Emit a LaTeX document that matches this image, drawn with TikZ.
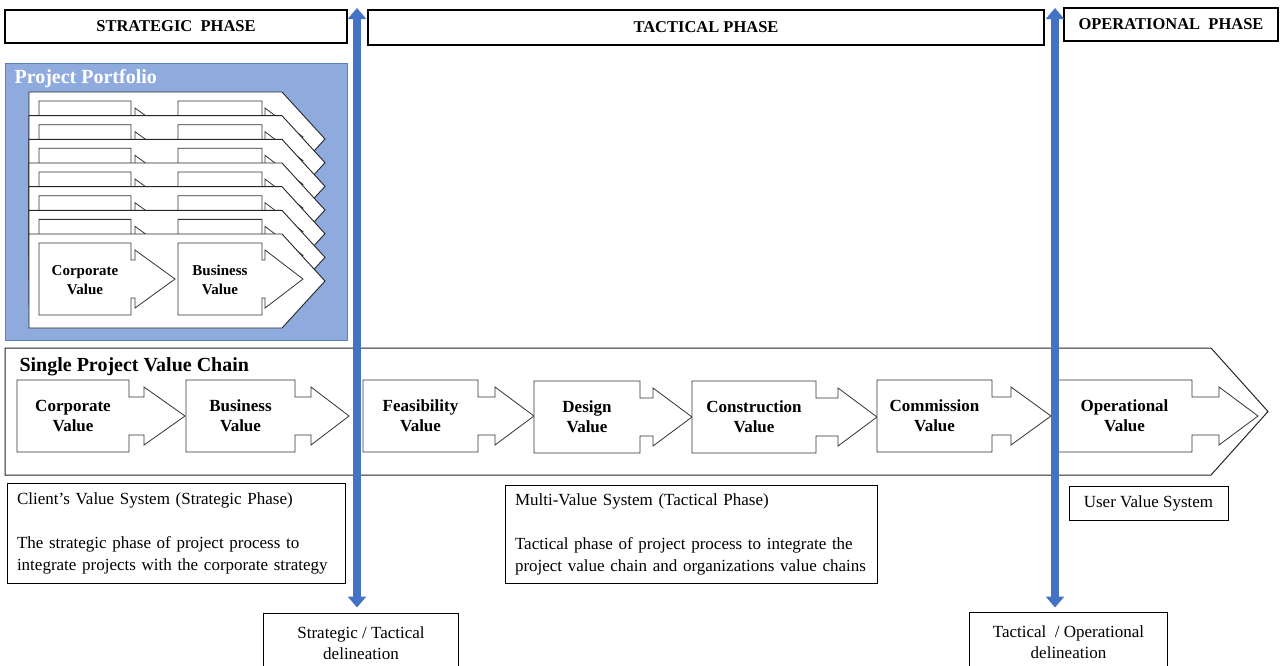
\documentclass[tikz,border=0pt]{standalone}
\usepackage{fontspec}
\setmainfont{Liberation Serif}
\usepackage{tikz}
\usetikzlibrary{arrows.meta}

\definecolor{arrowblue}{RGB}{68,114,196}
\definecolor{portfoliofill}{RGB}{143,170,220}
\definecolor{portfolioline}{RGB}{90,125,190}

% value arrow: left, right, notch, tip, centre y
\newcommand{\valueshape}[5]{%
  \draw[chevron] (#1,#5-36) -- (#2,#5-36) -- (#2,#5-19) -- (#3,#5-19)
    -- (#3,#5-29) -- (#4,#5) -- (#3,#5+29) -- (#3,#5+19) -- (#2,#5+19)
    -- (#2,#5+36) -- (#1,#5+36) -- cycle;}

\begin{document}
\begin{tikzpicture}[x=1pt,y=-1pt,
  phase box/.style={draw,line width=1.1pt,inner sep=0pt,font=\fontsize{16.5}{20}\selectfont\bfseries},
  info box/.style={draw,line width=1pt,inner xsep=10pt,inner ysep=0pt,align=left,font=\fontsize{17}{22}\selectfont},
  delin box/.style={draw,line width=1pt,inner sep=0pt,align=center,font=\fontsize{17}{21}\selectfont},
  chevron/.style={draw=black!80,fill=white,line width=0.8pt},
  strip/.style={draw=black!85,fill=white,line width=0.9pt},
  value label/.style={align=center,font=\fontsize{17}{20}\selectfont\bfseries},
  small label/.style={align=center,font=\fontsize{15}{19}\selectfont\bfseries},
  phase arrow/.style={draw=arrowblue,line width=7.5pt,
    {Triangle[width=18pt,length=11pt]}-{Triangle[width=18pt,length=11pt]}}]

  \useasboundingbox (0,0) rectangle (1280,665);
  \clip (0,0) rectangle (1280,665);

  % phase headers
  \node[phase box,minimum width=342,minimum height=33] (strat) at (176,26.5) {STRATEGIC\ \ PHASE};
  \node[phase box,minimum width=676,minimum height=35] (tact) at (706,27.5) {TACTICAL PHASE};
  \node[phase box,minimum width=214,minimum height=33] (oper) at (1171,24.5) {OPERATIONAL\ \ PHASE};

  % project portfolio
  \draw[fill=portfoliofill,draw=portfolioline,line width=1pt] (5,63) rectangle (347,340);
  \node[anchor=base west,text=white,font=\fontsize{20}{24}\selectfont\bfseries] (portfolio) at (11,83) {Project Portfolio};
  \foreach \k in {0,...,6}{
    \pgfmathsetmacro{\stripy}{92+23.67*\k}
    \pgfmathsetmacro{\stripc}{\stripy+45}
    \draw[strip] (29,\stripy) -- (282,\stripy) -- (325,\stripy+47) -- (282,\stripy+94)
      -- (29,\stripy+94) -- cycle;
    \valueshape{39}{131}{135}{175}{\stripc}
    \valueshape{178}{262}{265}{303}{\stripc}
  }
  \node[small label] (pfcorp) at (85,280) {Corporate\\Value};
  \node[small label] (pfbus) at (220,280) {Business\\Value};

  % single project value chain
  \draw[strip,line width=1pt] (5,348) -- (1211,348) -- (1268,411.5) -- (1211,475) -- (5,475) -- cycle;
  \node[anchor=base west,font=\fontsize{20}{24}\selectfont\bfseries] (chain) at (16,371) {Single Project Value Chain};

  \valueshape{17}{129}{144}{185}{416}
  \valueshape{186}{295}{311}{349}{416}
  \valueshape{363}{478}{495}{534}{416}
  \valueshape{534}{640}{653}{692}{417}
  \valueshape{692}{816}{838}{877}{417}
  \valueshape{877}{992}{1011}{1051}{416}
  \valueshape{1057}{1192}{1219}{1258}{416}

  \node[value label] (corp) at (73,416) {Corporate\\Value};
  \node[value label] (bus) at (240.5,416) {Business\\Value};
  \node[value label] (feas) at (420.5,416) {Feasibility\\Value};
  \node[value label] (des) at (587,417) {Design\\Value};
  \node[value label] (cons) at (754,417) {Construction\\Value};
  \node[value label] (comm) at (934.5,416) {Commission\\Value};
  \node[value label] (opv) at (1124.5,416) {Operational\\Value};

  % value systems
  \node[info box,text width=318,minimum height=100] (clientvs) at (176,533)
    {Client's Value System (Strategic Phase)\\[22pt]The strategic phase of project process to\\integrate projects with the corporate strategy};
  \node[info box,text width=352,minimum height=98] (multivs) at (691,534)
    {Multi-Value System (Tactical Phase)\\[22pt]Tactical phase of project process to integrate the\\project value chain and organizations value chains};
  \node[info box,align=center,inner xsep=0pt,minimum width=159,minimum height=34] (uservs) at (1148.5,503) {User Value System};

  % delineations
  \node[delin box,minimum width=195,minimum height=60] (stdel) at (361,643) {Strategic / Tactical\\delineation};
  \node[delin box,minimum width=198,minimum height=60] (todel) at (1068.5,642) {Tactical\ \ / Operational\\delineation};

  \coordinate (st top) at (357,8);
  \coordinate (to top) at (1055,8);
  \draw[phase arrow,shorten >=5pt] (st top) -- (st top |- stdel.north);
  \draw[phase arrow,shorten >=4pt] (to top) -- (to top |- todel.north);

\end{tikzpicture}
\end{document}
